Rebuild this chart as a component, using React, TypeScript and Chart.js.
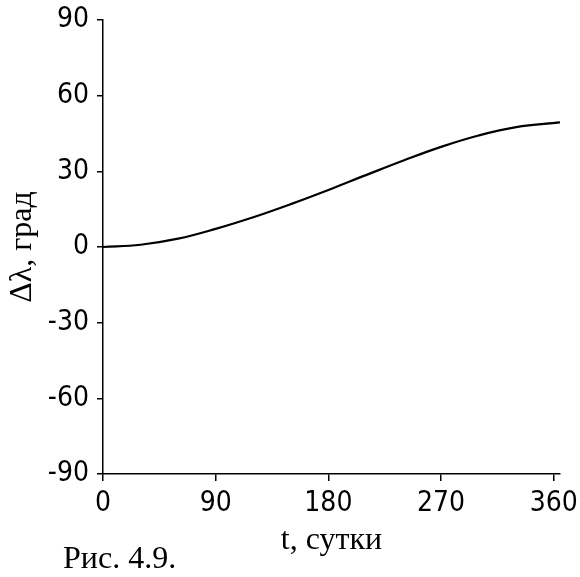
import React, { useEffect, useRef } from "react";
import { Chart, registerables } from "chart.js";

Chart.register(...registerables);

const days = [0, 30, 60, 90, 120, 150, 180, 210, 240, 270, 300, 330, 365];
const dLambda = [0, 0.9, 3.3, 7.2, 11.8, 17.0, 22.6, 28.5, 34.3, 39.7, 44.2, 47.5, 49.4];
const xTicks = [0, 90, 180, 270, 360];
const yTicks = [-90, -60, -30, 0, 30, 60, 90];
const xTitle = "t, сутки";
const yTitle = "Δλ, град";
const caption = "Рис. 4.9.";

const tickFont = { family: '"DejaVu Sans Condensed", "DejaVu Sans", sans-serif', size: 28 };
const titleFont = { family: '"Liberation Serif", "Times New Roman", serif', size: 32 };

export default function App() {
  const ref = useRef<HTMLCanvasElement | null>(null);

  useEffect(() => {
    if (!ref.current) return;
    const chart = new Chart(ref.current, {
      type: "line",
      data: {
        datasets: [
          {
            data: days.map((d, i) => ({ x: d, y: dLambda[i] })),
            borderColor: "#000",
            borderWidth: 2.2,
            pointRadius: 0,
            tension: 0.4,
            fill: false,
          },
        ],
      },
      options: {
        animation: false,
        responsive: false,
        maintainAspectRatio: false,
        layout: { padding: { left: 0, right: 20, top: 20, bottom: 0 } },
        plugins: { legend: { display: false }, tooltip: { enabled: false } },
        scales: {
          x: {
            type: "linear",
            min: 0,
            max: 365,
            afterBuildTicks: (s: any) => {
              s.ticks = xTicks.map((v) => ({ value: v }));
            },
            afterFit: (s: any) => {
              s.height = 577 - 474;
              s.paddingLeft = 0;
              s.paddingRight = 0;
            },
            ticks: { color: "#000", font: tickFont, padding: 6, maxRotation: 0, autoSkip: false },
            grid: { drawOnChartArea: false, drawTicks: true, tickLength: 7, color: "#000", lineWidth: 1.5 },
            border: { display: true, color: "#000", width: 1.5 },
            title: { display: true, text: xTitle, color: "#000", font: titleFont, padding: { top: 0, bottom: 17 } },
          },
          y: {
            type: "linear",
            min: -90,
            max: 90,
            afterBuildTicks: (s: any) => {
              s.ticks = yTicks.map((v) => ({ value: v }));
            },
            afterFit: (s: any) => {
              s.width = 103;
              s.paddingTop = 0;
              s.paddingBottom = 0;
            },
            ticks: { color: "#000", font: tickFont, padding: 8, autoSkip: false },
            grid: { drawOnChartArea: false, drawTicks: true, tickLength: 6, color: "#000", lineWidth: 1.5 },
            border: { display: true, color: "#000", width: 1.5 },
            title: { display: true, text: yTitle, color: "#000", font: titleFont, padding: { top: 3, bottom: 0 } },
          },
        },
      },
    });
    return () => chart.destroy();
  }, []);

  return (
    <div style={{ position: "absolute", left: 0, top: 0, width: 580, height: 577, background: "#fff" }}>
      <canvas ref={ref} width={580} height={577} style={{ position: "absolute", left: 0, top: 0 }} />
      <div
        style={{
          position: "absolute",
          left: 63,
          top: 541,
          fontFamily: '"Liberation Serif", "Times New Roman", serif',
          fontSize: 32,
          lineHeight: "32px",
          color: "#000",
          whiteSpace: "nowrap",
        }}
      >
        {caption}
      </div>
    </div>
  );
}
